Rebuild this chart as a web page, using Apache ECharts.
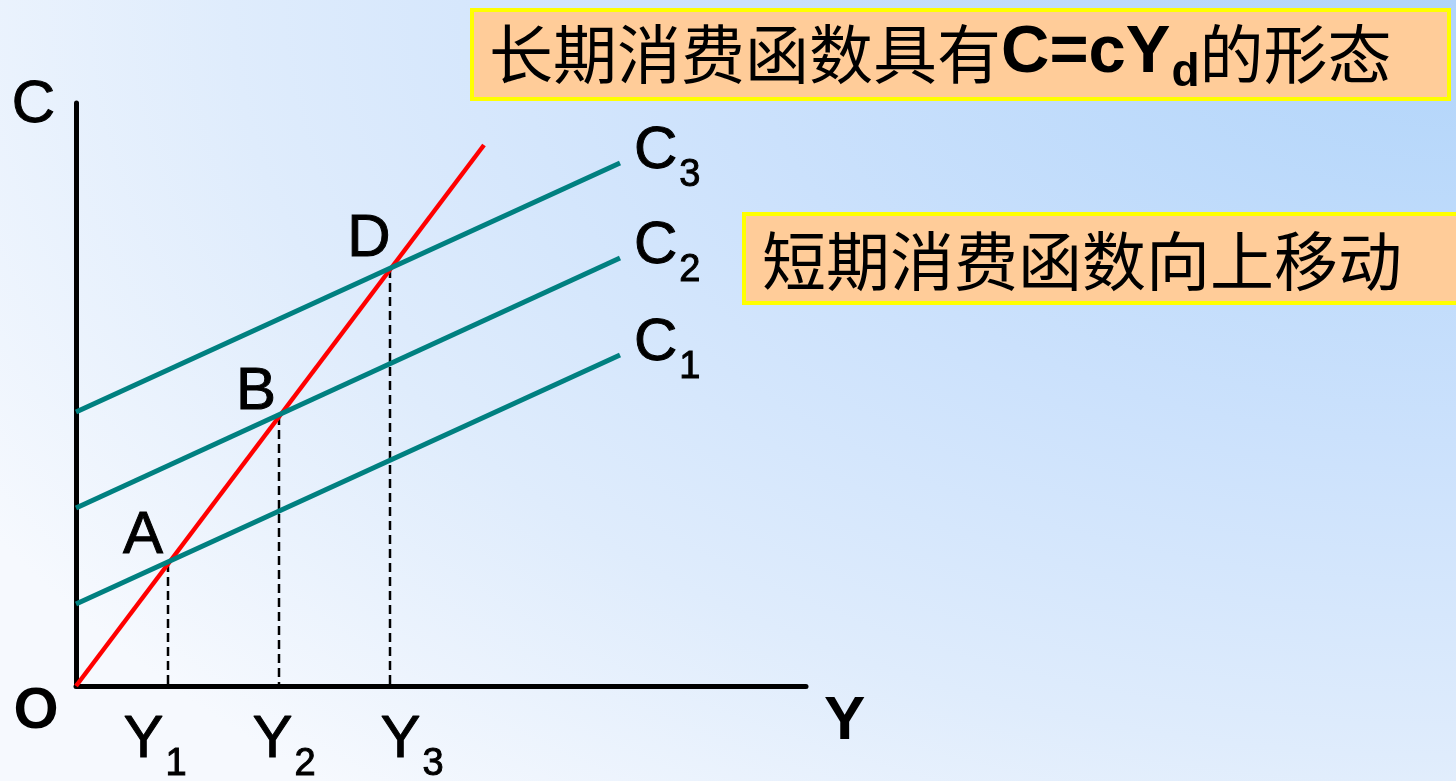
<!DOCTYPE html>
<html>
<head>
<meta charset="utf-8">
<script src="https://cdn.jsdelivr.net/npm/echarts@6/dist/echarts.min.js"></script>
<style>
  html, body { margin: 0; padding: 0; }
  #chart {
    width: 1456px; height: 781px;
    background: radial-gradient(ellipse 1700px 1050px at 100% 0%,
      #b0d4fa 0%, #cbe1fc 42%, #dfecfc 72%, #f6f9fe 100%);
  }
</style>
</head>
<body>
<div id="chart"></div>
<script>
// ---- data (abstract income / consumption units) ----
// Long-run consumption function C = cYd, through the origin
const longRun = [[0, 0], [40.8, 54.1]];
// Short-run consumption functions C1, C2, C3 (same slope, rising intercept)
const shortRunSubs = ['1', '2', '3'];
const shortRun1 = [[0, 8.2], [54.4, 33.1]];
const shortRun2 = [[0, 17.8], [54.4, 42.8]];
const shortRun3 = [[0, 27.4], [54.4, 52.3]];
// Where each short-run function meets the long-run one
const pointNames = ['A', 'B', 'D'];
const pointValues = [[9.2, 12.3], [20.3, 27.0], [31.4, 41.7]];
// Income levels Y1, Y2, Y3 under those points
const incomeSubs = ['1', '2', '3'];
// Axis extents
const xMax = 73;
const yMax = 58.3;

// ---- layout / style ----
const LATIN = 'Liberation Sans, Arial, sans-serif';
const CJK = 'Noto Sans CJK SC, sans-serif';
const TEAL = '#008080';
const pointLabelOffsets = [[-25, -27], [-23, -24], [-21, -30]];
const incomeLabelOffsets = [[-13, 54], [5, 54], [22, 54]];
// slightly heavier strokes for the regular-weight letters
const ink = { color: '#000', textBorderColor: '#000', textBorderWidth: 1, opacity: 1 };
// invisible anchor symbols that only carry text
const anchorStyle = { opacity: 1, color: 'transparent' };

const subRich = {
  m: Object.assign({ fontFamily: LATIN, fontSize: 60, lineHeight: 60 }, ink),
  s: Object.assign({ fontFamily: LATIN, fontSize: 38, lineHeight: 38, padding: [50, 0, 0, 2] }, ink)
};

const shortRuns = [shortRun1, shortRun2, shortRun3];

const series = [];

// long-run line (red)
series.push({
  type: 'line', data: longRun, symbol: 'none', silent: true, z: 3,
  lineStyle: { color: '#ff0000', width: 4.5 }
});

// short-run lines (teal)
shortRuns.forEach((pts) => {
  series.push({
    type: 'line', symbol: 'none', silent: true, z: 4,
    lineStyle: { color: TEAL, width: 5 },
    data: pts
  });
});

// C1, C2, C3 labels at the right end of each short-run line
series.push({
  type: 'scatter', symbolSize: 0, silent: true, z: 5, itemStyle: anchorStyle,
  data: shortRuns.map((pts, i) => ({
    value: pts[pts.length - 1],
    label: {
      show: true, position: 'right', distance: 14, offset: [0, -12], opacity: 1,
      formatter: '{m|C}{s|' + shortRunSubs[i] + '}', rich: subRich
    }
  }))
});

// dashed drops from each intersection to the income axis
pointValues.forEach((p) => {
  series.push({
    type: 'line', symbol: 'none', silent: true, z: 2,
    data: [[p[0], p[1]], [p[0], 0]],
    lineStyle: { color: '#000', width: 2.5, type: [9, 5] }
  });
});

// intersection letters A, B, D
series.push({
  type: 'scatter', symbolSize: 0, silent: true, z: 5, itemStyle: anchorStyle,
  data: pointValues.map((p, i) => ({
    value: p,
    label: Object.assign({
      show: true, position: 'inside', offset: pointLabelOffsets[i],
      formatter: pointNames[i], fontFamily: LATIN, fontSize: 60
    }, ink)
  }))
});

// Y1, Y2, Y3 below the axis
series.push({
  type: 'scatter', symbolSize: 0, silent: true, z: 5, itemStyle: anchorStyle,
  data: pointValues.map((p, i) => ({
    value: [p[0], 0],
    label: {
      show: true, position: 'inside', offset: incomeLabelOffsets[i], opacity: 1,
      formatter: '{m|Y}{s|' + incomeSubs[i] + '}', rich: subRich
    }
  }))
});

// origin label
series.push({
  type: 'scatter', symbolSize: 0, silent: true, z: 5, itemStyle: anchorStyle,
  data: [{
    value: [0, 0],
    label: {
      show: true, position: 'inside', offset: [-40, 26], opacity: 1,
      formatter: 'O', fontFamily: LATIN, fontSize: 58, fontWeight: 'bold', color: '#000'
    }
  }]
});

const axisCommon = {
  type: 'value', min: 0,
  axisTick: { show: false }, axisLabel: { show: false }, splitLine: { show: false },
  axisLine: { show: true, onZero: false, lineStyle: { color: '#000', width: 5 } }
};

const titleRich = {
  h: { fontFamily: CJK, fontSize: 64, fill: '#000', lineHeight: 64 },
  l: { fontFamily: LATIN, fontSize: 67, fontWeight: 'bold', fill: '#000', lineHeight: 67 },
  d: { fontFamily: LATIN, fontSize: 46, fontWeight: 'bold', fill: '#000', lineHeight: 46, padding: [38, 0, 0, 1] }
};

const option = {
  backgroundColor: 'transparent',
  animation: false,
  grid: { left: 76, top: 103, width: 730, height: 583, outerBoundsMode: 'none', containLabel: false },
  xAxis: Object.assign({}, axisCommon, {
    max: xMax, name: 'Y', nameLocation: 'end', nameGap: 18,
    nameTextStyle: {
      fontFamily: LATIN, fontSize: 62, fontWeight: 'bold', color: '#000',
      align: 'left', verticalAlign: 'top', lineHeight: 72
    }
  }),
  yAxis: Object.assign({}, axisCommon, {
    max: yMax, name: 'C', nameLocation: 'end', nameGap: -2,
    nameTextStyle: Object.assign({
      fontFamily: LATIN, fontSize: 60,
      align: 'right', verticalAlign: 'middle', padding: [0, 21, 0, 0]
    }, ink)
  }),
  graphic: [
    {
      type: 'rect', z: 10, silent: true,
      shape: { x: 472, y: 10, width: 977, height: 89 },
      style: { fill: '#ffcc99', stroke: '#ffff00', lineWidth: 4 }
    },
    {
      type: 'text', z: 11, silent: true, x: 489, y: 54,
      style: {
        text: '{h|长期消费函数具有}{l|C=cY}{d|d}{h|的形态}',
        rich: titleRich, align: 'left', verticalAlign: 'middle'
      }
    },
    {
      type: 'rect', z: 10, silent: true,
      shape: { x: 744, y: 214, width: 720, height: 89 },
      style: { fill: '#ffcc99', stroke: '#ffff00', lineWidth: 4 }
    },
    {
      type: 'text', z: 11, silent: true, x: 762, y: 261,
      style: {
        text: '短期消费函数向上移动',
        font: '64px ' + CJK, fill: '#000', align: 'left', verticalAlign: 'middle'
      }
    }
  ],
  series: series
};

const chart = echarts.init(document.getElementById('chart'), null, { renderer: 'canvas' });
chart.setOption(option);
</script>
</body>
</html>
